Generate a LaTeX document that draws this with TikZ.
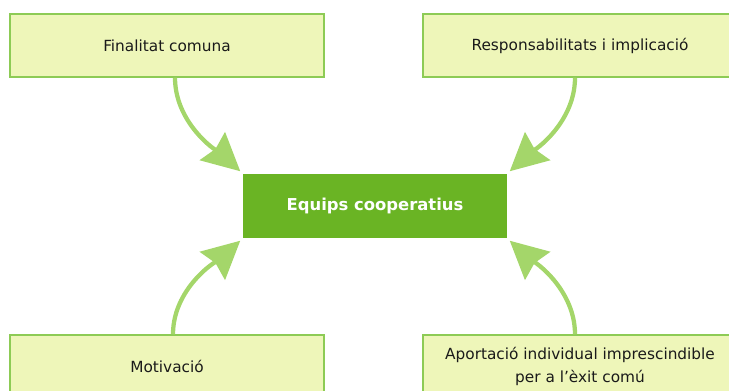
\documentclass[tikz,border=0pt]{standalone}
\usepackage{fontspec}
\setmainfont{DejaVu Sans}
\usepackage{xcolor}
\usetikzlibrary{arrows.meta}
\definecolor{boxfill}{HTML}{EEF6B9}
\definecolor{boxline}{HTML}{8DCB55}
\definecolor{eqfill}{HTML}{6AB424}
\definecolor{arrgreen}{HTML}{A4D66A}
\definecolor{txt}{HTML}{1A1A1A}
\begin{document}
\begin{tikzpicture}[x=0.75pt, y=0.75pt,
  box/.style={draw=boxline, line width=1.1pt, fill=#1, align=center, text=txt,
    font=\fontsize{11.5}{17.25}\selectfont, minimum width=235.5pt, minimum height=47.25pt, inner sep=0pt},
  box/.default=boxfill,
  arr/.style={-{Stealth[length=28pt, width=28pt, inset=3pt]}, draw=arrgreen, line width=3.2pt}]
\useasboundingbox (0,0) rectangle (729,391);
\node[box] (fin) at (167,345.5) {Finalitat comuna};
\node[box] (resp) at (580,345.5) {Responsabilitats i implicació};
\node[box] (mot) at (167,24.5) {Motivació};
\node[box] (apo) at (580,24.5) {Aportació individual imprescindible\\per a l’èxit comú};
\node[box=eqfill, draw=none, text=white, font=\bfseries\fontsize{12.3}{15}\selectfont,
  minimum width=198pt, minimum height=48pt] (eq) at (375,185) {Equips cooperatius};
% corbes cap al node central
\draw[arr] ([xshift=6pt]fin.south) to[out=-90, in=138, out looseness=1.1, in looseness=0.5] ([shift={(-2,2)}]eq.north west);
\draw[arr] ([xshift=-3.75pt]resp.south) to[out=-90, in=42, out looseness=1.1, in looseness=0.5] ([shift={(2,2)}]eq.north east);
\draw[arr] ([xshift=4.5pt]mot.north) to[out=90, in=-138, out looseness=1.1, in looseness=0.5] ([shift={(-2,-2)}]eq.south west);
\draw[arr] ([xshift=-3.75pt]apo.north) to[out=90, in=-42, out looseness=1.1, in looseness=0.5] ([shift={(2,-2)}]eq.south east);
\end{tikzpicture}
\end{document}
